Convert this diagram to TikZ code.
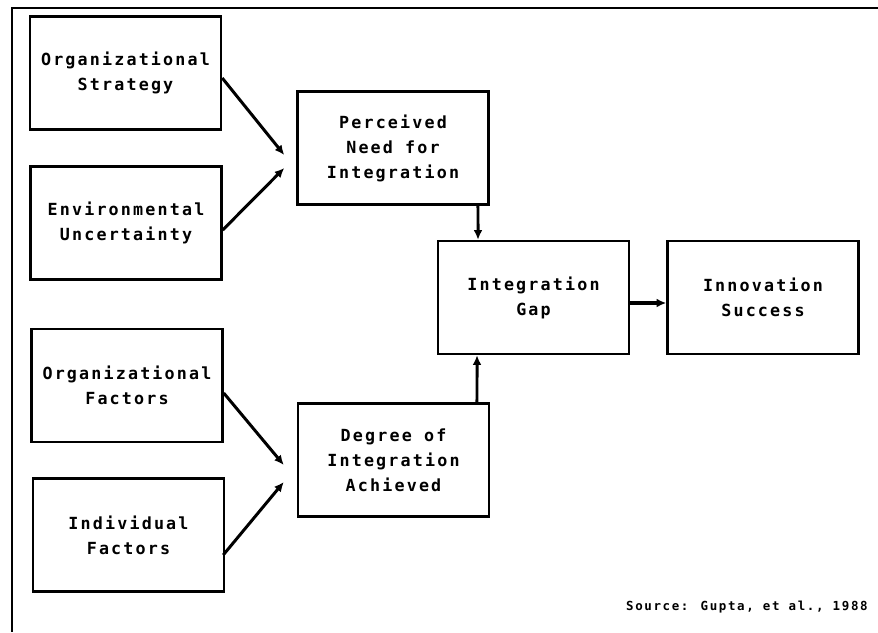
\documentclass[tikz,border=0pt]{standalone}
\usepackage{fontspec}
\usetikzlibrary{arrows.meta}
\newfontfamily\plotfont[LetterSpace=13]{DejaVu Sans Mono}
\tikzset{
  factorbox/.style={draw, line width=1.4pt, minimum width=3.82cm, minimum height=2.26cm,
    align=center, inner sep=0pt, font=\plotfont\bfseries\fontsize{9.5}{14.2}\selectfont},
  flow/.style={line width=1.7pt, -{Latex[length=5.5pt,width=5pt]}},
}
\begin{document}
\begin{tikzpicture}[x=0.02cm, y=-0.02cm]
    \useasboundingbox (0,0) rectangle (878,632);
    \draw[line width=1.7pt] (878,8) -- (12,8) -- (12,632);
    \node[factorbox] (strategy) at (125.5,73) {Organizational\\Strategy};
    \node[factorbox] (uncertainty) at (126,223) {Environmental\\Uncertainty};
    \node[factorbox] (orgfactors) at (127,385.5) {Organizational\\Factors};
    \node[factorbox] (indfactors) at (128.5,535) {Individual\\Factors};
    \node[factorbox] (need) at (393,148) {Perceived\\Need for\\Integration};
    \node[factorbox] (degree) at (393.5,460) {Degree of\\Integration\\Achieved};
    \node[factorbox] (gap) at (533.5,297.5) {Integration\\Gap};
    \node[factorbox] (success) at (763,297.5) {Innovation\\Success};
    \node[anchor=east, inner sep=0pt, font=\plotfont\bfseries\fontsize{7.1}{8}\selectfont] (source) at (868,607) {Source: Gupta, et al., 1988};
    \draw[flow] ([yshift=-0.1cm]strategy.east) -- ([xshift=-0.24cm, yshift=-0.14cm]need.west);
    \draw[flow] ([yshift=-0.14cm]uncertainty.east) -- ([xshift=-0.24cm, yshift=-0.4cm]need.west);
    \draw[flow] ([yshift=-0.15cm]orgfactors.east) -- ([xshift=-0.26cm, yshift=-0.1cm]degree.west);
    \draw[flow] ([xshift=-0.04cm, yshift=-0.4cm]indfactors.east) -- ([xshift=-0.26cm, yshift=-0.44cm]degree.west);
    \draw[flow] ([xshift=1.7cm]need.south) -- ([xshift=-1.11cm]gap.north);
    \draw[flow] ([xshift=1.67cm]degree.north) -- ([xshift=-1.13cm]gap.south);
    \draw[flow, line width=2.6pt] ([yshift=-0.11cm]gap.east) -- ([yshift=-0.11cm]success.west);
\end{tikzpicture}
\end{document}
